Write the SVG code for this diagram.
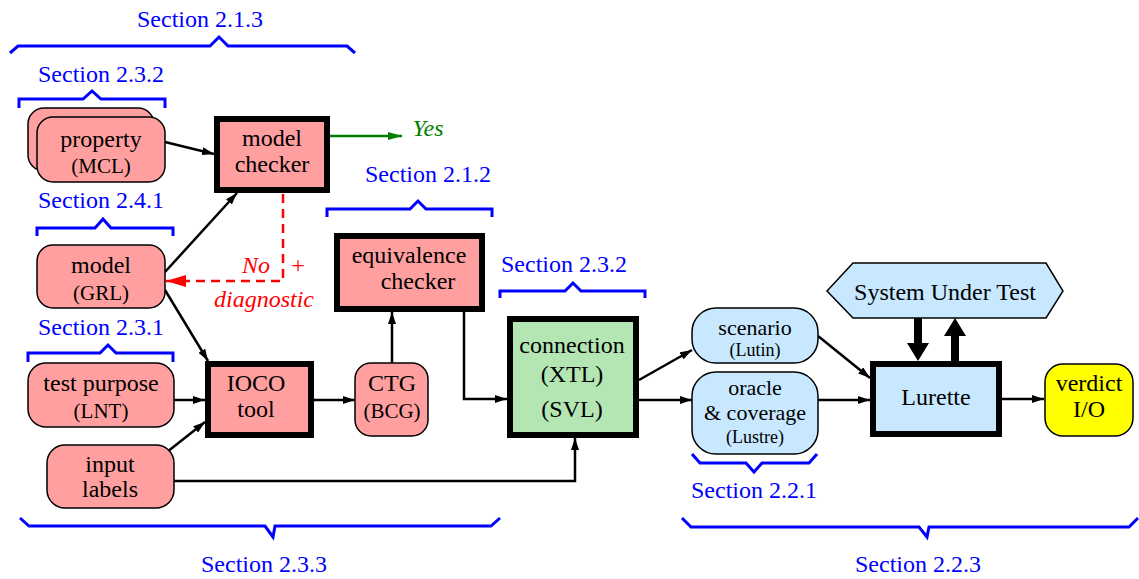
<svg xmlns="http://www.w3.org/2000/svg" width="1139" height="579" viewBox="0 0 1139 579" font-family="'Liberation Serif', 'Times New Roman', serif">
<defs>
<style>
text{font-family:"Liberation Serif","Times New Roman",serif;text-anchor:middle}
.nt{font-family:"Liberation Serif","Times New Roman",serif;font-size:24px;fill:#000}
.ns{font-family:"Liberation Serif","Times New Roman",serif;font-size:21px;fill:#000}
.sec{font-family:"Liberation Serif","Times New Roman",serif;font-size:24px;fill:#0000ff}
.red{font-family:"Liberation Serif","Times New Roman",serif;font-size:24px;fill:#ff0000;font-style:italic}
.br{fill:none;stroke:#0000ff;stroke-width:3}
.pk{fill:#ff9f9f}
.bl{fill:#c8e8ff}
.rn{stroke:#000;stroke-width:1.5}
.bx{stroke:#000;stroke-width:6}
.c{fill:none;stroke:#000;stroke-width:2.5}
</style>
<marker id="ah" viewBox="0 0 12 8" refX="12" refY="4" markerWidth="12" markerHeight="8" markerUnits="userSpaceOnUse" orient="auto"><path d="M0,0 L12,4 L0,8 z" fill="#000"/></marker>
<marker id="ahg" viewBox="0 0 14 8" refX="14" refY="4" markerWidth="14" markerHeight="8" markerUnits="userSpaceOnUse" orient="auto"><path d="M0,0 L14,4 L0,8 z" fill="#008000"/></marker>
<marker id="ahr" viewBox="0 0 20 12" refX="20" refY="6" markerWidth="20" markerHeight="12" markerUnits="userSpaceOnUse" orient="auto"><path d="M0,0 L20,6 L0,12 z" fill="#ff0000"/></marker>
</defs>

<g id="braces">
<polyline class="br" points="10,53 18,46 210,46 219,37 228,46 347,46 355,53"/>
<text class="sec" x="200" y="27">Section 2.1.3</text>
<polyline class="br" points="19,108 19,99 83,99 92,91 101,99 165,99 165,108"/>
<text class="sec" x="101" y="82">Section 2.3.2</text>
<polyline class="br" points="37,236 37,228 95,228 103,219 111,228 173,228 173,236"/>
<text class="sec" x="101" y="208">Section 2.4.1</text>
<polyline class="br" points="28,362 28,353 100,353 108,345 116,353 173,353 173,362"/>
<text class="sec" x="101" y="335">Section 2.3.1</text>
<polyline class="br" points="327,217 327,209 410,209 418,201 426,209 492,209 492,217"/>
<text class="sec" x="428" y="182">Section 2.1.2</text>
<polyline class="br" points="500,298 500,291 565,291 573,283 581,291 645,291 645,298"/>
<text class="sec" x="564" y="272">Section 2.3.2</text>
<polyline class="br" points="692,454 700,463 746,463 754,472 762,463 809,463 817,454"/>
<text class="sec" x="754" y="498">Section 2.2.1</text>
<polyline class="br" points="20,518 29,526 265,526 273,537 275,526 491,526 500,518"/>
<text class="sec" x="264" y="572">Section 2.3.3</text>
<polyline class="br" points="682,518 691,527 919,527 927,537 929,527 1129,527 1138,518"/>
<text class="sec" x="918" y="572">Section 2.2.3</text>
</g>

<g id="connectors">
<line class="c" x1="165" y1="142" x2="214" y2="154" marker-end="url(#ah)"/>
<line stroke="#008000" stroke-width="2.5" x1="330" y1="136" x2="402" y2="136" marker-end="url(#ahg)"/>
<line class="c" x1="165" y1="272" x2="237" y2="193" marker-end="url(#ah)"/>
<polyline fill="none" stroke="#ff0000" stroke-width="2.5" stroke-dasharray="9,6" points="283,194 283,281 166,281" marker-end="url(#ahr)"/>
<line class="c" x1="165" y1="290" x2="208" y2="361" marker-end="url(#ah)"/>
<line class="c" x1="174" y1="400" x2="205" y2="400" marker-end="url(#ah)"/>
<line class="c" x1="167" y1="452" x2="205" y2="422" marker-end="url(#ah)"/>
<polyline class="c" points="174,481 575,481 575,438" marker-end="url(#ah)"/>
<line class="c" x1="314" y1="400" x2="355" y2="400" marker-end="url(#ah)"/>
<line class="c" x1="392" y1="363" x2="392" y2="312" marker-end="url(#ah)"/>
<polyline class="c" points="464,312 464,399 507,399" marker-end="url(#ah)"/>
<line class="c" x1="639" y1="380" x2="692" y2="350" marker-end="url(#ah)"/>
<line class="c" x1="639" y1="400" x2="692" y2="400" marker-end="url(#ah)"/>
<line class="c" x1="818" y1="336" x2="870" y2="378" marker-end="url(#ah)"/>
<line class="c" x1="818" y1="400" x2="870" y2="400" marker-end="url(#ah)"/>
<line class="c" x1="1002" y1="399" x2="1044" y2="399" marker-end="url(#ah)"/>
<path d="M914,318 L922,318 L922,343 L929,343 L918,361 L907,343 L914,343 Z" fill="#000"/>
<path d="M951,361 L959,361 L959,336 L966,336 L955,318 L944,336 L951,336 Z" fill="#000"/>
</g>

<g id="yes"><text x="428" y="136" font-family="'Liberation Serif', serif" font-size="24" font-style="italic" fill="#008000">Yes</text></g>
<g id="nodiag">
<text class="red" x="256" y="273">No</text>
<text class="red" x="298" y="273" style="font-style:normal">+</text>
<text class="red" x="264" y="307">diagnostic</text>
</g>

<g id="property" font-family="'Liberation Serif', serif">
<rect class="pk rn" x="28" y="108" width="126" height="63" rx="16"/>
<rect class="pk rn" x="37" y="117" width="128" height="65" rx="16"/>
<text class="nt" x="101" y="147">property</text>
<text class="ns" x="101" y="173">(MCL)</text>
</g>
<g id="modelchecker" font-family="'Liberation Serif', serif">
<rect class="pk bx" x="217" y="119" width="110" height="71"/>
<text class="nt" x="272" y="146">model</text>
<text class="nt" x="272" y="172">checker</text>
</g>
<g id="model" font-family="'Liberation Serif', serif">
<rect class="pk rn" x="37" y="245" width="128" height="63" rx="16"/>
<text class="nt" x="101" y="273">model</text>
<text class="ns" x="101" y="300">(GRL)</text>
</g>
<g id="testpurpose" font-family="'Liberation Serif', serif">
<rect class="pk rn" x="28" y="363" width="146" height="64" rx="18"/>
<text class="nt" x="101" y="391">test purpose</text>
<text class="ns" x="101" y="418">(LNT)</text>
</g>
<g id="inputlabels" font-family="'Liberation Serif', serif">
<rect class="pk rn" x="47" y="445" width="127" height="63" rx="18"/>
<text class="nt" x="110" y="472">input</text>
<text class="nt" x="110" y="497">labels</text>
</g>
<g id="ioco" font-family="'Liberation Serif', serif">
<rect class="pk bx" x="208" y="364" width="103" height="71"/>
<text class="nt" x="256" y="391">IOCO</text>
<text class="nt" x="256" y="417">tool</text>
</g>
<g id="ctg" font-family="'Liberation Serif', serif">
<rect class="pk rn" x="355" y="363" width="73" height="73" rx="16"/>
<text class="nt" x="392" y="391">CTG</text>
<text class="ns" x="392" y="418">(BCG)</text>
</g>
<g id="equivalence" font-family="'Liberation Serif', serif">
<rect class="pk bx" x="337" y="236" width="145" height="73"/>
<text class="nt" x="409" y="263">equivalence</text>
<text class="nt" x="418" y="289">checker</text>
</g>
<g id="connection" font-family="'Liberation Serif', serif">
<rect class="bx" fill="#b3e6b3" x="510" y="319" width="126" height="116"/>
<text class="nt" x="572" y="353">connection</text>
<text class="nt" x="572" y="382">(XTL)</text>
<text class="nt" x="572" y="417">(SVL)</text>
</g>
<g id="scenario" font-family="'Liberation Serif', serif">
<rect class="bl rn" x="692" y="308" width="126" height="55" rx="24"/>
<text class="nt" x="755" y="335" style="font-size:22px">scenario</text>
<text class="ns" x="755" y="356" style="font-size:18px">(Lutin)</text>
</g>
<g id="oracle" font-family="'Liberation Serif', serif">
<rect class="bl rn" x="692" y="372" width="126" height="82" rx="24"/>
<text class="nt" x="755" y="395" style="font-size:22px">oracle</text>
<text class="nt" x="755" y="420" style="font-size:22px">&amp; coverage</text>
<text class="ns" x="755" y="443" style="font-size:18px">(Lustre)</text>
</g>
<g id="sut" font-family="'Liberation Serif', serif">
<polygon class="bl rn" points="827,291 853,263 1046,263 1063,291 1046,318 853,318"/>
<text class="nt" x="945" y="300">System Under Test</text>
</g>
<g id="lurette" font-family="'Liberation Serif', serif">
<rect class="bl bx" x="873" y="364" width="126" height="70"/>
<text class="nt" x="936" y="405">Lurette</text>
</g>
<g id="verdict" font-family="'Liberation Serif', serif">
<rect class="rn" fill="#ffff00" stroke-width="3" x="1045" y="364" width="88" height="72" rx="18"/>
<text class="nt" x="1089" y="391">verdict</text>
<text class="nt" x="1089" y="417">I/O</text>
</g>
</svg>
